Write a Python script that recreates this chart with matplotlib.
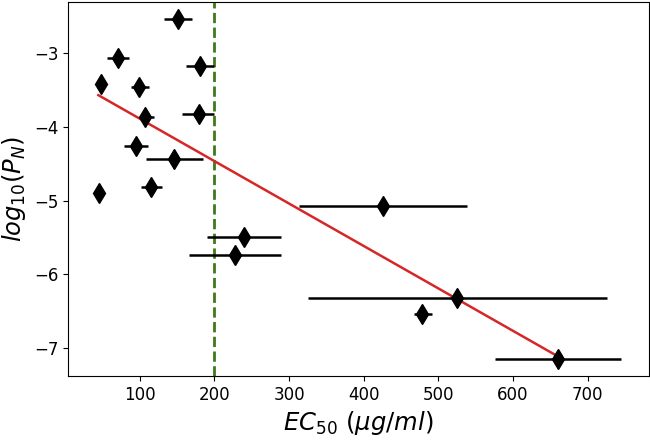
import matplotlib
matplotlib.use("Agg")
import matplotlib.pyplot as plt

# EC50 (ug/ml), lower/upper bounds and log10(P_N)
ec50 = [151, 70.4, 48, 99, 180.4, 107.5, 179.5, 94.6, 146.4, 45.5, 115,
        425.6, 239.4, 227.3, 525.3, 478, 660]
ec50_lo = [133, 55.7, 48, 88, 161.6, 100.3, 156.7, 78.5, 108.4, 45.5, 101.7,
           312.9, 190, 166, 325, 468, 575.6]
ec50_hi = [170, 85.2, 48, 112, 199.2, 119.5, 199.2, 110.7, 184.8, 45.5, 129.4,
           537.8, 289.7, 289.7, 726, 491, 745.2]
log_pn = [-2.54, -3.07, -3.42, -3.46, -3.18, -3.87, -3.82, -4.26, -4.44, -4.89,
          -4.82, -5.07, -5.49, -5.74, -6.32, -6.54, -7.15]

# fitted line end points
fit_x = [44.4, 660]
fit_y = [-3.57, -7.11]

threshold = 200

xerr = [[c - lo for c, lo in zip(ec50, ec50_lo)],
        [hi - c for c, hi in zip(ec50, ec50_hi)]]

fig = plt.figure(figsize=(6.5, 4.4), dpi=100)
ax = fig.add_axes([0.105, 0.145, 0.893, 0.85])

ax.errorbar(ec50, log_pn, xerr=xerr, fmt='d', color='black',
            markersize=10, elinewidth=1.8, capsize=0, zorder=3)
ax.plot(fit_x, fit_y, color='#d62728', linewidth=1.8, zorder=2)
ax.axvline(threshold, color='#3d7a1c', linestyle='--', linewidth=2, zorder=1)

ax.set_xlim(4, 782)
ax.set_xticks([100, 200, 300, 400, 500, 600, 700])
ax.set_yticks([-7, -6, -5, -4, -3])
ax.tick_params(labelsize=12)
ax.set_xlabel(r'$EC_{50}$ $(\mu g/ml)$', fontsize=17.5)
ax.set_ylabel(r'$log_{10}(P_N)$', fontsize=17.5)

fig.savefig('out.png', dpi=100)
